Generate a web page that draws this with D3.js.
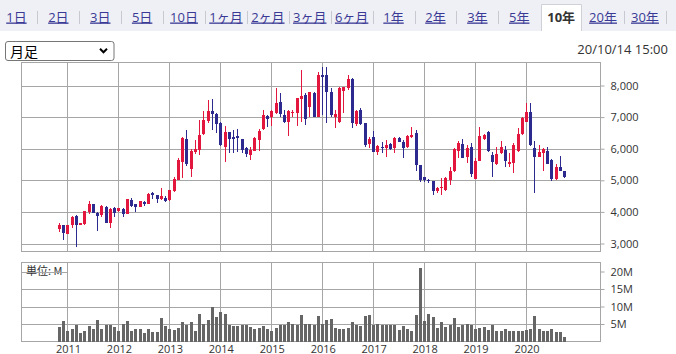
<!DOCTYPE html>
<html><head><meta charset="utf-8">
<script src="https://cdn.jsdelivr.net/npm/d3@7"></script>
<style>
html,body{margin:0;padding:0;background:#fff;}
svg{display:block;}
</style></head>
<body>
<svg id="c" width="676" height="354"></svg>
<script>
// ---- data ----
const tabs = ["1日","2日","3日","5日","10日","1ヶ月","2ヶ月","3ヶ月","6ヶ月","1年","2年","3年","5年","10年","20年","30年"];
const activeTab = "10年";
const selectLabel = "月足";
const timestamp = "20/10/14 15:00";
const volumeUnitLabel = "単位: M";
const yearLabels = ["2011","2012","2013","2014","2015","2016","2017","2018","2019","2020"];
const priceTicks = [3000,4000,5000,6000,7000,8000];
const volumeTicks = [5,10,15,20];
const firstMonth = new Date(2010, 10, 1);   // Nov 2010
const lastMonth  = new Date(2020, 9, 1);    // Oct 2020

const open  = [3460,3570,3310,3570,3880,3590,3610,4010,4250,3980,3900,4170,3640,4130,4040,4100,3940,4380,4240,4170,
               4310,4250,4590,4520,4400,4450,4380,4670,5010,5590,6300,5360,5910,5960,6460,6890,7190,7100,6820,6060,
               6520,6380,6400,6310,6010,5800,5940,6280,6610,7030,6990,7120,7470,7070,6830,7140,7140,7580,7700,7330,
               7750,7010,8330,8330,7780,6990,6850,7830,7910,8220,6780,7220,6800,6150,6380,5910,6040,6010,6150,6010,
               6350,6220,6040,6360,6510,5490,5100,5010,4980,4660,4770,4700,5010,5280,5940,6150,5750,6040,5040,5620,
               6300,6540,5800,5520,5850,5960,5520,5560,5940,6460,6850,7170,6010,5750,5850,5940,5640,5040,5410,5290];
const high  = [3640,3590,3600,3880,3900,3660,4040,4350,4260,4010,4220,4200,4120,4170,4120,4120,4410,4450,4250,4350,
               4330,4610,4630,4550,4750,4490,4700,5120,5690,6360,6590,5980,6280,6910,7200,7540,7560,7120,6850,6720,
               6540,6590,6610,6320,6040,6040,6360,6610,7220,7070,7220,7910,7770,7220,7220,7240,7620,8490,7750,7800,
               7780,8430,8590,8590,7910,7240,7940,7960,8330,8250,7220,7280,6820,6360,6570,6120,6220,6280,6170,6360,
               6380,6280,6430,6700,6590,5490,5120,5030,4990,4800,5060,5100,5430,6010,6250,6300,6120,6190,5700,6700,
               6460,6570,5880,6040,6250,6090,5850,6170,6640,6990,7450,7450,6250,6120,6010,6040,5660,5520,5770,5310];
const low   = [3350,3120,3290,3480,2900,3570,3600,3940,3960,3410,3850,3640,3500,3850,4010,3850,3930,4170,4010,4160,
               4200,4240,4400,4270,4380,4320,4330,4640,5000,5060,5450,5120,5820,5800,6430,6800,6590,6510,6090,5590,
               5850,5850,5910,5850,5750,5640,5930,5940,6590,6700,6720,7100,7010,6800,6400,6990,6720,6850,6750,7010,
               7000,7000,7070,6800,7010,6640,6800,7120,7850,6640,6720,6750,6040,6010,5900,5800,5850,5730,5970,5850,
               6210,5700,6010,6330,5280,4960,4960,4910,4540,4590,4540,4670,4850,5270,5700,5700,5540,5100,5030,5620,
               6280,5910,5100,5490,5830,5430,5430,5220,5910,6430,6830,6090,4590,5740,5280,5510,4990,5010,5300,5060];
const close = [3590,3330,3590,3850,3570,3640,4030,4250,3980,3880,4200,3640,4100,3980,4110,3940,4400,4200,4170,4330,
               4250,4570,4520,4400,4490,4330,4700,5040,5640,6330,5510,5940,5980,6430,6910,7190,7090,6780,6120,6540,
               6310,6320,6330,5960,5830,5960,6330,6570,7070,6950,7190,7450,7100,6830,7190,7170,7590,7670,6950,7780,
               7010,8330,8280,7800,7070,7100,7910,7940,8190,6800,7200,6780,6120,6310,5910,6090,6010,6120,5980,6330,
               6220,6010,6400,6420,5490,5010,5010,4980,4660,4770,4800,5060,5300,5980,6170,5720,6030,5200,5620,6400,
               6430,5940,5590,5830,6040,5620,5590,6120,6460,6960,7170,6120,5750,5910,5980,5520,5030,5410,5310,5100];
// monthly volume, millions of shares
const volume = [4.1,5.8,2.9,3.5,4.8,2.4,2.9,4.3,3.5,6.1,3.5,4.6,4.8,4.1,2.9,5.1,5.8,2.9,3.5,3.5,
                2.5,3.7,2.7,2.7,6.6,4.3,3.5,3.2,3.8,5.5,4.8,5.5,2.9,7.8,5.1,6.1,9.8,7.0,8.4,8.0,
                4.8,4.3,4.3,4.6,4.6,4.1,3.7,3.8,4.3,3.7,2.9,3.8,4.8,4.8,5.5,5.1,4.8,7.5,5.1,5.1,
                4.8,7.2,5.1,6.1,6.3,3.8,3.7,3.5,3.8,5.5,4.8,4.3,7.2,7.5,4.8,5.1,4.6,4.6,4.6,4.6,
                3.3,4.5,3.6,3.0,7.6,21.1,5.9,7.9,7.1,3.9,5.7,4.1,4.6,6.6,4.1,4.8,5.1,4.8,3.7,3.8,
                4.1,3.2,4.6,3.0,2.9,3.5,2.9,2.9,3.1,3.1,3.4,3.5,7.2,3.5,2.9,2.9,3.5,2.6,2.6,1.25];

// ---- styles ----
const UP = "#e3173e", DOWN = "#2c2a8e", VOL = "#666666", GRID = "#a6a6a6";
const NUMFONT = "'Open Sans','Noto Sans CJK JP',sans-serif";
const JPFONT = "'Noto Sans CJK JP','Open Sans',sans-serif";

const svg = d3.select("#c");
const fmtM = d3.timeFormat("%Y-%m");
const months = d3.timeMonth.range(firstMonth, d3.timeMonth.offset(lastMonth, 1)).map(fmtM);
const data = months.map((m,i)=>({m, o:open[i], h:high[i], l:low[i], c:close[i], v:volume[i]}));

// ---- tab bar ----
svg.append("rect").attr("x",0).attr("y",0).attr("width",676).attr("height",31).attr("fill","#eff0f5");
const cellW = 41.9, cell0 = -4.5;
tabs.forEach((t,k)=>{
  const cx = cell0 + cellW*k + cellW/2;
  const isActive = t === activeTab;
  if (isActive) {
    const x0 = cell0 + cellW*k + 1;
    svg.append("path")
      .attr("d",`M${Math.round(x0)+0.5},31 V4.5 H${Math.round(x0+cellW-2)+0.5} V31`)
      .attr("fill","#fff").attr("stroke","#d0d0d8");
  }
  svg.append("text").attr("x",cx).attr("y",21.5).attr("text-anchor","middle")
    .attr("font-family",NUMFONT).attr("font-size",13)
    .attr("font-weight",isActive?"bold":"normal")
    .attr("fill",isActive?"#333":"#3a3a96")
    .attr("text-decoration",isActive?"none":"underline")
    .text(t);
  const nextActive = tabs[k+1] === activeTab;
  if (!isActive && !nextActive) {
    const sx = Math.round(cell0 + cellW*(k+1)) + 0.5;
    svg.append("line").attr("x1",sx).attr("x2",sx).attr("y1",11).attr("y2",24)
      .attr("stroke","#c8c8d0");
  }
});

// ---- select + timestamp ----
svg.append("rect").attr("x",5.5).attr("y",41.5).attr("width",108.5).attr("height",19)
  .attr("rx",2.5).attr("fill","#fff").attr("stroke","#767676");
svg.append("text").attr("x",10).attr("y",57).attr("font-family",JPFONT).attr("font-size",14)
  .attr("fill","#000").text(selectLabel);
svg.append("path").attr("d","M100,48.8 L103.5,52.3 L107,48.8").attr("fill","none")
  .attr("stroke","#000").attr("stroke-width",2);
svg.append("text").attr("x",668).attr("y",53.5).attr("text-anchor","end")
  .attr("font-family",NUMFONT).attr("font-size",13).attr("fill","#333").text(timestamp);

// ---- scales ----
const L = 21.5, R = 600.5;
const P = {top:62.5, bottom:251.5};
const V = {top:262.5, bottom:341.5};
const x = d3.scalePoint().domain(months).range([59, 564.2]);
const yP = d3.scaleLinear().domain([3000,8000]).range([243.5,85.5]);
const yV = d3.scaleLinear().domain([0,20]).range([341.5,271.5]);
const px = v => Math.round(v);

// ---- price panel ----
const gP = svg.append("g");
gP.append("rect").attr("x",L).attr("y",P.top).attr("width",R-L).attr("height",P.bottom-P.top)
  .attr("fill","#fff").attr("stroke",GRID);
gP.selectAll("line.hg").data(priceTicks).join("line")
  .attr("x1",L).attr("x2",R).attr("y1",d=>px(yP(d))+0.5).attr("y2",d=>px(yP(d))+0.5)
  .attr("stroke",GRID);
gP.selectAll("line.vg").data(yearLabels).join("line")
  .attr("x1",d=>px(x(d+"-01"))+0.5).attr("x2",d=>px(x(d+"-01"))+0.5)
  .attr("y1",P.top).attr("y2",P.bottom).attr("stroke",GRID);

const candles = gP.append("g").selectAll("g").data(data).join("g")
  .attr("fill",d=>d.c>=d.o?UP:DOWN);
candles.append("rect")
  .attr("x",d=>px(x(d.m)))
  .attr("y",d=>px(yP(d.h)))
  .attr("width",1)
  .attr("height",d=>Math.max(1,px(yP(d.l))-px(yP(d.h))));
candles.append("rect")
  .attr("x",d=>px(x(d.m))-1)
  .attr("y",d=>px(yP(Math.max(d.o,d.c))))
  .attr("width",3)
  .attr("height",d=>Math.max(1,px(yP(Math.min(d.o,d.c)))-px(yP(Math.max(d.o,d.c)))));

const axP = d3.axisRight(yP).tickValues(priceTicks).tickSize(4).tickPadding(6)
  .tickFormat(d3.format(","));
const gAxP = svg.append("g").attr("transform",`translate(${R},0)`).call(axP);
gAxP.select(".domain").remove();
gAxP.selectAll(".tick line").attr("stroke",GRID);
gAxP.selectAll(".tick text").attr("font-family",NUMFONT).attr("font-size",11).attr("fill","#333");

// ---- volume panel ----
const gV = svg.append("g");
gV.append("rect").attr("x",L).attr("y",V.top).attr("width",R-L).attr("height",V.bottom-V.top)
  .attr("fill","#fff").attr("stroke",GRID);
gV.selectAll("line.hg").data(volumeTicks.filter(d=>d<20)).join("line")
  .attr("x1",L).attr("x2",R).attr("y1",d=>px(yV(d))+0.5).attr("y2",d=>px(yV(d))+0.5)
  .attr("stroke",GRID);
gV.selectAll("line.vg").data(yearLabels).join("line")
  .attr("x1",d=>px(x(d+"-01"))+0.5).attr("x2",d=>px(x(d+"-01"))+0.5)
  .attr("y1",V.top).attr("y2",V.bottom).attr("stroke",GRID);
gV.append("text").attr("x",26).attr("y",275).attr("font-family",JPFONT).attr("font-size",11)
  .attr("fill","#333").text(volumeUnitLabel);
gV.append("line").attr("x1",L).attr("x2",px(x(yearLabels[0]+"-01"))+0.5)
  .attr("y1",px(yV(20))+0.5).attr("y2",px(yV(20))+0.5).attr("stroke",GRID);
gV.selectAll("rect.bar").data(data).join("rect")
  .attr("x",d=>px(x(d.m))-1).attr("width",3)
  .attr("y",d=>px(yV(d.v))).attr("height",d=>px(yV(0))-px(yV(d.v)))
  .attr("fill",VOL);

const axV = d3.axisRight(yV).tickValues(volumeTicks).tickSize(4).tickPadding(6)
  .tickFormat(d=>d+"M");
const gAxV = svg.append("g").attr("transform",`translate(${R},0)`).call(axV);
gAxV.select(".domain").remove();
gAxV.selectAll(".tick line").attr("stroke",GRID);
gAxV.selectAll(".tick text").attr("font-family",NUMFONT).attr("font-size",11).attr("fill","#333");

// year labels
svg.selectAll("text.yr").data(yearLabels).join("text")
  .attr("x",d=>x(d+"-01")+1).attr("y",352.5).attr("text-anchor","middle")
  .attr("font-family",NUMFONT).attr("font-size",11).attr("fill","#333").text(d=>d);
</script>
</body></html>
